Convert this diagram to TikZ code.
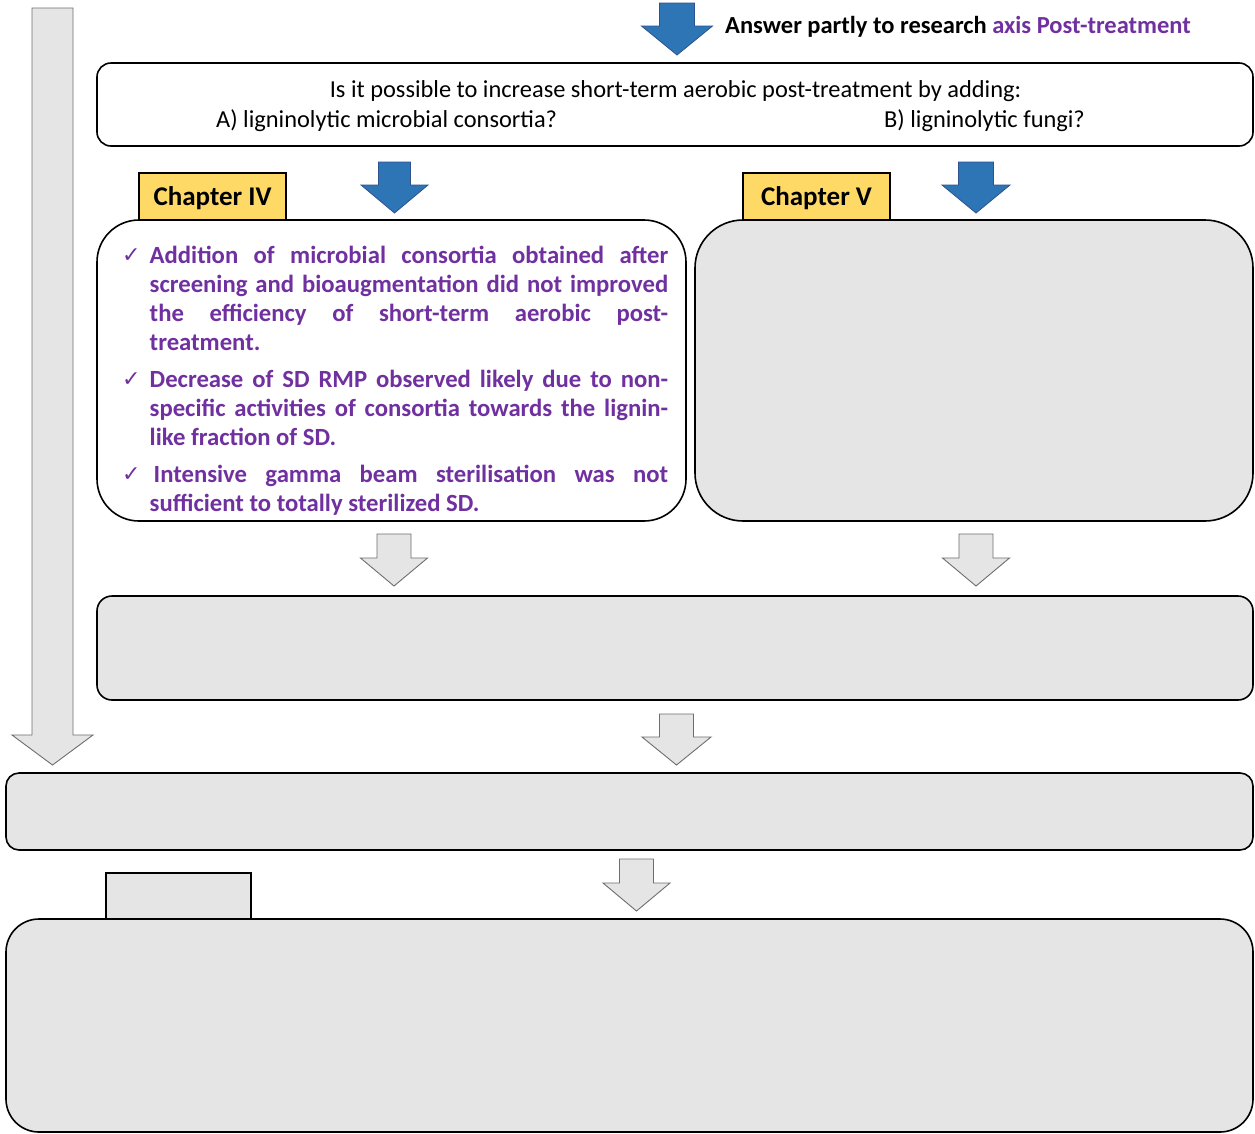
\documentclass[tikz,border=0pt]{standalone}
\usepackage{fontspec}
\setmainfont{Carlito}
\newfontfamily\chkfont{DejaVu Sans}
\definecolor{purp}{HTML}{7030A0}
\definecolor{boxgray}{HTML}{E5E5E5}
\definecolor{chapyellow}{HTML}{FFD966}
\definecolor{arrblue}{HTML}{2E75B6}
\definecolor{arrblueborder}{HTML}{2F528F}
\definecolor{arrgray}{HTML}{6E6E6E}
% block arrow: style, centre x, top y, head base y, shaft half width, head half width, tip y
\newcommand{\blkarrow}[7]{%
  \draw[#1] ({#2-#5},#3) -- ({#2+#5},#3) -- ({#2+#5},#4) -- ({#2+#6},#4)
    -- (#2,#7) -- ({#2-#6},#4) -- ({#2-#5},#4) -- cycle;}
\newcommand{\chk}{\makebox[27.5pt][l]{\raisebox{1pt}{\chkfont\fontsize{22}{24}\selectfont\textcolor{purp}{✓}}}}
\begin{document}
\begin{tikzpicture}[x=1pt,y=-1pt,
  box/.style={draw=black,line width=1.6pt,inner sep=0pt,outer sep=0pt,anchor=north west},
  graybox/.style={box,fill=boxgray},
  chap/.style={draw=black,line width=1.4pt,fill=chapyellow,inner sep=0pt,outer sep=0pt,anchor=north west,
    text height=19pt,text depth=0.6pt,font=\fontsize{27}{30}\selectfont\bfseries},
  bluearrow/.style={fill=arrblue,draw=arrblueborder,line width=0.8pt},
  grayarrow/.style={fill=boxgray,draw=arrgray,line width=0.9pt},
  qtext/.style={inner sep=0pt,font=\fontsize{24.4}{28}\selectfont},
  bold/.style={inner sep=0pt,font=\fontsize{24.5}{28}\selectfont\bfseries},
]
\useasboundingbox (0,0) rectangle (1255,1133);
\fill[white] (0,0) rectangle (1255,1133);

% long left arrow
\blkarrow{grayarrow}{52.5}{8}{735}{20.5}{40.5}{765}

% heading
\blkarrow{bluearrow}{677}{3}{26}{17.5}{35.5}{55}
\node[bold,anchor=base west] (head) at (725,33.5) {Answer partly to research \textcolor{purp}{axis Post-treatment}};

% question box
\node[box,fill=white,rounded corners=14pt,minimum width=1156pt,minimum height=83pt] (question) at (97,63) {};
\node[qtext,anchor=base] (q1) at (675.5,97) {Is it possible to increase short-term aerobic post-treatment by adding:};
\node[qtext,anchor=base west] (q2a) at (216,127) {A) ligninolytic microbial consortia?};
\node[qtext,anchor=base west] (q2b) at (884,127) {B) ligninolytic fungi?};

% blue arrows
\blkarrow{bluearrow}{394.5}{162}{185}{16}{33.5}{213}
\blkarrow{bluearrow}{976}{162}{185}{17.5}{34}{213}

% chapter IV box
\node[box,fill=white,rounded corners=42pt,minimum width=589pt,minimum height=301pt] (ch4box) at (97,220) {};
\node[chap,minimum width=147pt,minimum height=47pt] (ch4) at (139,173) {Chapter IV};
\node[inner sep=0pt,anchor=base west] (ch4text) at (122,263) {\parbox[t]{546pt}{%
  \hyphenpenalty=10000 \exhyphenpenalty=10000 \emergencystretch=0pt \hfuzz=20pt%
  \noindent\fontsize{24.7}{29.3}\selectfont\bfseries\setlength{\parskip}{7pt}\color{purp}%
  \hangindent=27.5pt \hangafter=1 \chk Addition~of~microbial~consortia~obtained~after\linebreak
  screening~and~bioaugmentation~did~not~improved\linebreak
  the~efficiency~of~short-term~aerobic~post-\linebreak
  treatment.\par
  \hangindent=27.5pt \hangafter=1 \noindent\chk Decrease~of~SD~RMP~observed~likely~due~to~non-\linebreak
  specific~activities~of~consortia~towards~the~lignin-\linebreak
  like~fraction~of~SD.\par
  \hangindent=27.5pt \hangafter=1 \noindent\chk\hspace{4pt}Intensive~gamma~beam~sterilisation~was~not\linebreak
  sufficient~to~totally~sterilized~SD.\par}};

% chapter V box
\node[graybox,rounded corners=48pt,minimum width=558pt,minimum height=301pt] (ch5box) at (695,220) {};
\node[chap,minimum width=147pt,minimum height=47pt] (ch5) at (743,173) {Chapter V};

% gray arrows
\blkarrow{grayarrow}{394}{534}{558}{17}{33.5}{586}
\blkarrow{grayarrow}{976}{534}{558}{17}{33.5}{586}

% synthesis box
\node[graybox,rounded corners=15pt,minimum width=1156pt,minimum height=104pt] (synth) at (97,596) {};
\blkarrow{grayarrow}{676.5}{714}{737}{17}{34.5}{765}

% conclusion box
\node[graybox,rounded corners=13pt,minimum width=1247pt,minimum height=77pt] (concl) at (6,773) {};
\blkarrow{grayarrow}{636.5}{859}{883}{17}{33.5}{911}

% perspectives box
\node[graybox,rounded corners=33pt,minimum width=1247pt,minimum height=213pt] (persp) at (6,919) {};
\node[box,fill=boxgray,line width=1.4pt,minimum width=145pt,minimum height=46pt] (perslabel) at (106,873) {};
\end{tikzpicture}
\end{document}
